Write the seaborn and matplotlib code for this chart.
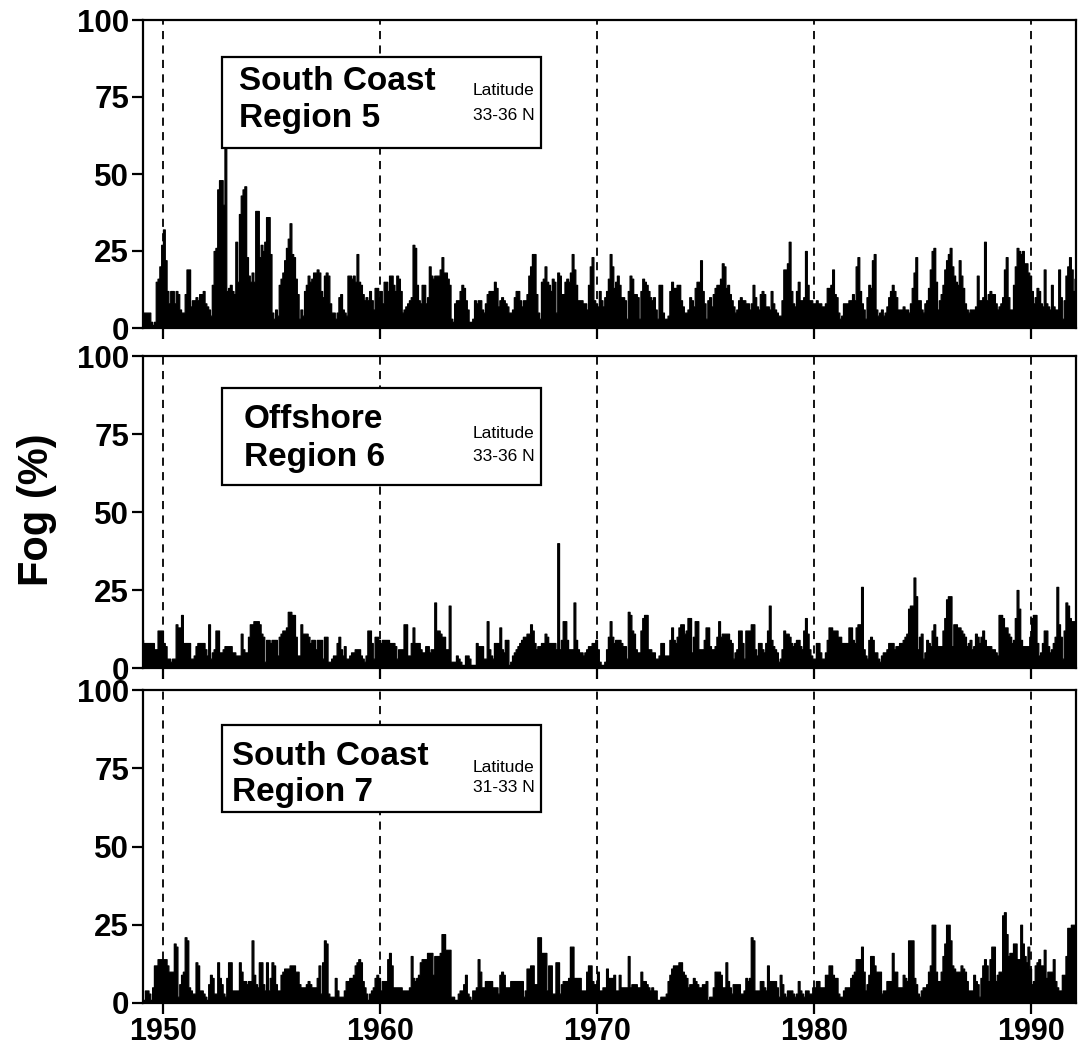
import numpy as np
import pandas as pd
import matplotlib
matplotlib.use("Agg")
import matplotlib.pyplot as plt
from matplotlib.patches import Rectangle
import seaborn as sns

sns.set_theme(style="white")
plt.rcParams['font.family'] = ['Liberation Sans', 'DejaVu Sans']
plt.rcParams['text.color'] = 'black'
plt.rcParams['axes.labelcolor'] = 'black'
plt.rcParams['xtick.color'] = 'black'
plt.rcParams['ytick.color'] = 'black'

# Monthly fog frequency (%), Jan 1949 .. Jan 1992, one row per year
region5 = [
    2, 5, 5, 5, 5, 2, 1, 2, 15, 16, 20, 27,
    32, 22, 12, 8, 12, 12, 8, 12, 11, 6, 5, 5,
    11, 19, 19, 7, 9, 9, 10, 9, 11, 11, 12, 8,
    7, 6, 4, 14, 25, 26, 45, 48, 48, 40, 62, 12,
    13, 14, 12, 11, 28, 15, 37, 43, 45, 46, 23, 17,
    15, 18, 15, 38, 38, 23, 27, 25, 28, 36, 36, 24,
    5, 3, 6, 4, 14, 16, 18, 22, 26, 29, 34, 24,
    23, 16, 11, 3, 6, 4, 12, 14, 17, 15, 16, 18,
    18, 19, 18, 12, 10, 17, 18, 17, 8, 5, 5, 3,
    5, 10, 11, 6, 5, 4, 17, 17, 16, 17, 15, 24,
    15, 14, 11, 9, 10, 9, 12, 9, 6, 13, 13, 10,
    12, 8, 15, 15, 12, 17, 17, 14, 12, 17, 16, 12,
    5, 6, 7, 8, 9, 10, 27, 26, 14, 9, 8, 14,
    14, 8, 10, 20, 17, 16, 17, 17, 17, 19, 23, 18,
    18, 16, 14, 3, 2, 8, 9, 9, 12, 14, 13, 9,
    6, 2, 2, 3, 9, 8, 9, 9, 6, 5, 8, 11,
    12, 12, 12, 15, 13, 7, 9, 10, 9, 8, 7, 5,
    5, 6, 10, 12, 12, 9, 7, 9, 9, 11, 17, 20,
    24, 24, 11, 5, 3, 15, 16, 20, 15, 14, 12, 16,
    15, 5, 18, 17, 11, 11, 15, 16, 15, 18, 24, 19,
    14, 9, 9, 9, 8, 8, 6, 14, 20, 23, 9, 8,
    7, 12, 9, 7, 10, 12, 16, 24, 20, 13, 15, 17,
    14, 10, 10, 9, 3, 12, 17, 16, 11, 11, 10, 3,
    12, 16, 15, 14, 12, 10, 9, 10, 6, 3, 14, 14,
    5, 3, 3, 4, 12, 15, 13, 13, 14, 14, 9, 7,
    5, 5, 6, 10, 9, 7, 13, 15, 15, 22, 12, 8,
    3, 9, 10, 7, 11, 13, 14, 14, 16, 21, 20, 13,
    14, 11, 9, 7, 5, 6, 9, 10, 9, 9, 8, 8,
    6, 8, 14, 10, 7, 6, 11, 12, 11, 7, 7, 6,
    12, 8, 6, 5, 4, 4, 9, 19, 19, 21, 28, 12,
    8, 7, 12, 15, 9, 9, 10, 25, 14, 9, 9, 8,
    8, 9, 8, 8, 7, 7, 8, 13, 13, 14, 19, 11,
    10, 5, 3, 4, 8, 8, 8, 9, 9, 11, 9, 20,
    23, 12, 8, 6, 3, 10, 14, 13, 22, 24, 6, 4,
    5, 6, 4, 5, 7, 10, 12, 14, 12, 10, 6, 6,
    6, 7, 6, 6, 5, 8, 13, 18, 23, 9, 9, 6,
    5, 8, 9, 13, 19, 25, 26, 15, 6, 9, 11, 14,
    19, 22, 24, 26, 20, 17, 15, 14, 22, 17, 13, 8,
    6, 5, 6, 6, 6, 7, 17, 9, 9, 10, 28, 9,
    11, 12, 11, 11, 8, 6, 7, 8, 10, 19, 23, 10,
    6, 6, 14, 20, 26, 25, 24, 25, 21, 21, 18, 17,
    12, 8, 10, 13, 12, 8, 7, 19, 8, 7, 6, 14,
    7, 6, 6, 19, 10, 3, 9, 17, 20, 23, 19, 12,
    16,
]

region6 = [
    9, 8, 8, 8, 8, 8, 8, 6, 6, 12, 12, 12,
    8, 7, 3, 3, 2, 3, 3, 14, 13, 13, 17, 8,
    8, 8, 8, 3, 3, 4, 7, 8, 8, 8, 8, 6,
    4, 14, 3, 5, 6, 12, 12, 5, 5, 6, 7, 7,
    7, 7, 5, 5, 4, 4, 4, 11, 6, 5, 5, 10,
    14, 14, 15, 15, 15, 14, 11, 10, 2, 9, 9, 8,
    9, 9, 9, 4, 10, 11, 12, 12, 13, 18, 18, 17,
    17, 10, 4, 4, 14, 11, 11, 11, 10, 8, 9, 9,
    6, 9, 9, 9, 3, 10, 10, 2, 2, 3, 4, 4,
    8, 10, 6, 4, 7, 3, 3, 4, 5, 5, 6, 6,
    6, 4, 3, 2, 4, 12, 12, 8, 3, 10, 10, 9,
    8, 9, 9, 9, 9, 8, 8, 8, 7, 3, 6, 6,
    6, 14, 14, 4, 4, 8, 13, 8, 8, 8, 6, 5,
    5, 7, 7, 5, 6, 6, 21, 12, 12, 11, 10, 10,
    6, 6, 20, 2, 2, 2, 4, 3, 2, 1, 1, 4,
    4, 3, 1, 1, 1, 8, 7, 7, 7, 3, 3, 15,
    6, 4, 3, 8, 8, 8, 13, 6, 5, 9, 9, 1,
    2, 4, 5, 6, 7, 8, 9, 10, 10, 11, 11, 14,
    12, 8, 6, 7, 7, 8, 8, 11, 10, 8, 8, 8,
    8, 6, 40, 6, 9, 15, 15, 9, 6, 6, 6, 21,
    9, 6, 5, 5, 4, 5, 6, 7, 7, 8, 8, 9,
    6, 2, 1, 1, 2, 6, 10, 15, 10, 8, 9, 9,
    9, 8, 7, 7, 3, 18, 17, 12, 11, 6, 5, 5,
    12, 16, 17, 17, 6, 6, 5, 5, 3, 3, 4, 8,
    8, 4, 4, 4, 9, 13, 9, 8, 10, 13, 14, 14,
    11, 12, 16, 16, 5, 10, 15, 15, 6, 6, 6, 9,
    13, 13, 7, 6, 6, 7, 10, 15, 10, 11, 11, 11,
    11, 9, 8, 3, 5, 6, 12, 12, 8, 3, 12, 12,
    12, 14, 14, 6, 4, 8, 8, 6, 5, 8, 12, 20,
    9, 7, 6, 5, 2, 3, 6, 12, 11, 11, 10, 8,
    7, 8, 9, 9, 7, 6, 12, 16, 11, 6, 4, 3,
    3, 8, 8, 5, 3, 3, 5, 9, 13, 13, 12, 12,
    12, 10, 10, 8, 8, 8, 8, 13, 13, 9, 8, 13,
    14, 14, 26, 6, 4, 3, 9, 10, 9, 5, 5, 3,
    2, 4, 5, 5, 6, 8, 8, 8, 6, 7, 7, 8,
    8, 9, 10, 11, 19, 20, 20, 29, 23, 6, 10, 11,
    3, 5, 9, 8, 7, 12, 14, 10, 7, 7, 7, 12,
    16, 22, 23, 23, 7, 14, 14, 13, 13, 12, 11, 10,
    7, 8, 9, 6, 7, 11, 10, 8, 10, 12, 9, 7,
    7, 7, 6, 6, 5, 4, 17, 17, 16, 13, 13, 11,
    10, 8, 9, 16, 25, 19, 9, 7, 7, 7, 7, 10,
    16, 17, 17, 8, 4, 5, 8, 12, 12, 7, 5, 6,
    8, 10, 26, 14, 10, 3, 12, 21, 20, 16, 15, 15,
    11,
]

region7 = [
    1, 1, 4, 4, 3, 1, 5, 12, 12, 14, 14, 14,
    14, 14, 12, 10, 10, 10, 19, 18, 2, 6, 9, 10,
    21, 20, 5, 4, 3, 3, 13, 12, 4, 4, 3, 2,
    1, 6, 9, 8, 3, 3, 13, 8, 6, 3, 2, 8,
    13, 13, 4, 4, 4, 4, 13, 10, 7, 7, 6, 7,
    7, 20, 9, 6, 5, 13, 13, 6, 4, 13, 4, 8,
    13, 12, 6, 4, 4, 9, 10, 11, 11, 11, 12, 12,
    12, 10, 10, 6, 5, 5, 5, 6, 7, 6, 5, 5,
    5, 8, 12, 3, 13, 20, 19, 3, 2, 2, 2, 8,
    4, 2, 2, 2, 4, 7, 7, 8, 8, 9, 12, 13,
    14, 13, 7, 5, 3, 1, 3, 4, 5, 8, 9, 8,
    4, 7, 7, 7, 14, 16, 12, 5, 5, 5, 5, 5,
    4, 4, 4, 4, 5, 15, 8, 7, 8, 9, 13, 14,
    14, 14, 16, 16, 16, 9, 15, 15, 15, 16, 22, 22,
    17, 17, 17, 2, 2, 1, 1, 3, 4, 4, 6, 9,
    3, 2, 1, 4, 4, 5, 14, 10, 5, 5, 7, 7,
    7, 7, 5, 5, 5, 3, 9, 10, 9, 5, 5, 5,
    7, 7, 7, 7, 7, 7, 7, 2, 4, 11, 11, 12,
    12, 6, 6, 21, 21, 16, 16, 16, 4, 12, 12, 3,
    3, 13, 13, 3, 6, 7, 7, 7, 8, 18, 18, 8,
    8, 8, 8, 4, 4, 4, 10, 12, 12, 7, 6, 6,
    10, 4, 4, 5, 5, 11, 8, 8, 8, 9, 4, 4,
    9, 5, 5, 5, 5, 15, 5, 6, 6, 6, 5, 5,
    10, 7, 7, 6, 5, 4, 5, 4, 4, 1, 1, 2,
    2, 2, 3, 7, 9, 11, 12, 12, 12, 13, 13, 10,
    9, 8, 5, 6, 6, 8, 7, 6, 5, 5, 6, 6,
    7, 1, 2, 2, 5, 10, 10, 10, 9, 5, 5, 13,
    7, 5, 3, 6, 6, 6, 6, 3, 3, 4, 8, 7,
    8, 21, 20, 4, 4, 4, 7, 7, 5, 4, 12, 7,
    7, 7, 7, 5, 2, 9, 6, 3, 2, 4, 4, 4,
    3, 2, 3, 7, 4, 3, 2, 4, 4, 3, 3, 5,
    5, 7, 7, 5, 5, 5, 9, 9, 12, 12, 9, 8,
    8, 3, 2, 2, 4, 5, 5, 5, 8, 9, 10, 14,
    14, 14, 18, 10, 4, 6, 9, 15, 15, 12, 10, 10,
    10, 3, 4, 4, 7, 7, 7, 16, 10, 10, 5, 5,
    5, 9, 8, 7, 20, 20, 20, 8, 6, 3, 2, 4,
    5, 5, 6, 10, 12, 25, 25, 10, 7, 7, 10, 15,
    19, 25, 25, 20, 12, 11, 10, 10, 10, 12, 11, 10,
    7, 4, 4, 4, 9, 7, 6, 2, 8, 12, 14, 12,
    7, 14, 18, 18, 7, 9, 10, 10, 28, 29, 22, 15,
    16, 16, 19, 19, 14, 14, 25, 19, 15, 13, 18, 11,
    6, 7, 12, 13, 14, 12, 12, 17, 8, 10, 10, 10,
    14, 7, 5, 4, 4, 9, 9, 15, 24, 24, 25, 25,
    25,
]

start_year = 1949
decades = [1950, 1960, 1970, 1980, 1990]
y_ticks = [0, 25, 50, 75, 100]
titles = ["South Coast\nRegion 5", "Offshore\nRegion 6", "South Coast\nRegion 7"]
latitudes = ["Latitude\n33-36 N", "Latitude\n33-36 N", "Latitude\n31-33 N"]
series = [region5, region6, region7]

W, H = 1078, 1063
fig = plt.figure(figsize=(W / 100, H / 100), dpi=100)

panels_px = [(20, 328), (356, 668), (690, 1003)]
left_px, right_px = 143, 1076
# box (x0, x1, y0, y1) in axes fraction; title line baselines; latitude baselines
boxes = [
    (0.0847, 0.4266, 0.584, 0.880, 0.773, 0.653, 0.756, 0.675),
    (0.0847, 0.4266, 0.587, 0.897, 0.769, 0.647, 0.737, 0.663),
    (0.0847, 0.4266, 0.610, 0.888, 0.760, 0.645, 0.738, 0.674),
]
text_x = [0.1029, 0.108, 0.0954]
lat_x = 0.3537

for i, (vals, (top, bot)) in enumerate(zip(series, panels_px)):
    ax = fig.add_axes([left_px / W, 1 - bot / H, (right_px - left_px) / W, (bot - top) / H])
    n = len(vals)
    centers = start_year + (np.arange(n) + 0.5) / 12.0
    df = pd.DataFrame({"time": centers, "fog": np.asarray(vals, dtype=float)})
    sns.histplot(data=df, x="time", weights="fog", binwidth=1.0 / 12.0,
                 binrange=(start_year, start_year + n / 12.0), element="step",
                 fill=True, color="black", alpha=1.0, linewidth=0.9,
                 edgecolor="black", ax=ax, zorder=2)
    for d in decades:
        ax.axvline(d, color="black", linestyle=(0, (4.5, 3.5)), linewidth=1.3, zorder=3)
    ax.set_xlim(1949.08, 1992.07)
    ax.set_ylim(0, 100)
    ax.set_yticks(y_ticks)
    ax.set_yticklabels([str(t) for t in y_ticks], fontsize=22.5, fontweight="bold")
    ax.set_xticks(decades)
    if i == 2:
        ax.set_xticklabels([str(d) for d in decades], fontsize=22, fontweight="bold")
    else:
        ax.set_xticklabels([])
    ax.set_xlabel("")
    ax.set_ylabel("")
    ax.tick_params(axis="both", direction="out", length=8, width=1.6, pad=2,
                   bottom=True, left=True, colors="black")
    for s in ax.spines.values():
        s.set_visible(True)
        s.set_color("black")
        s.set_linewidth(1.6)
    x0, x1, y0, y1, ty1, ty2, ly1, ly2 = boxes[i]
    ax.add_patch(Rectangle((x0, y0), x1 - x0, y1 - y0, transform=ax.transAxes,
                           facecolor="white", edgecolor="black", linewidth=1.6, zorder=5))
    l1, l2 = titles[i].split("\n")
    ax.text(text_x[i], ty1, l1, transform=ax.transAxes, fontsize=24, fontweight="bold",
            va="baseline", ha="left", zorder=6)
    ax.text(text_x[i], ty2, l2, transform=ax.transAxes, fontsize=24, fontweight="bold",
            va="baseline", ha="left", zorder=6)
    a1, a2 = latitudes[i].split("\n")
    ax.text(lat_x, ly1, a1, transform=ax.transAxes, fontsize=12.5,
            va="baseline", ha="left", zorder=6)
    ax.text(lat_x, ly2, a2, transform=ax.transAxes, fontsize=12.5,
            va="baseline", ha="left", zorder=6)

fig.text(37 / W, 1 - 510 / H, "Fog (%)", rotation=90, fontsize=30, fontweight="bold",
         va="center", ha="center")

fig.savefig("out.png", dpi=100)
